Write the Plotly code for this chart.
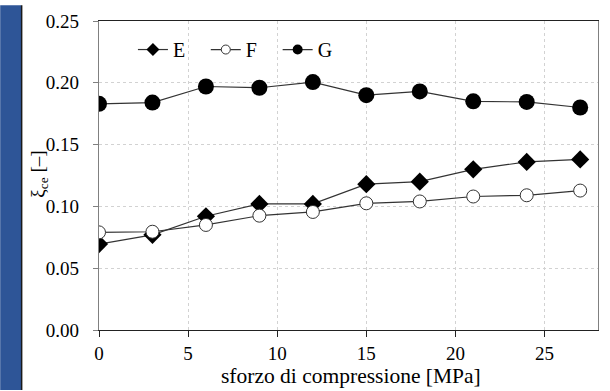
import plotly.graph_objects as go

x_vals = [0, 3, 6, 9, 12, 15, 18, 21, 24, 27]
series_E = [0.0695, 0.077, 0.092, 0.102, 0.102, 0.118, 0.120, 0.130, 0.136, 0.138]
series_F = [0.079, 0.0795, 0.085, 0.0925, 0.0955, 0.1025, 0.104, 0.108, 0.109, 0.1128]
series_G = [0.183, 0.184, 0.197, 0.196, 0.2006, 0.190, 0.193, 0.185, 0.1845, 0.180]
x_ticks = [0, 5, 10, 15, 20, 25]
y_ticks = [0.00, 0.05, 0.10, 0.15, 0.20, 0.25]
y_tick_labels = ["0.00", "0.05", "0.10", "0.15", "0.20", "0.25"]

FONT = "Liberation Serif, Times New Roman, serif"
W, H = 610, 391
L, R, T, B = 99, 11, 16, 61
pw, ph = W - L - R, H - T - B

def px_x(p):
    return (p - L) / pw

def px_y(p):
    return (H - B - p) / ph

fig = go.Figure()
line_style = dict(color="#333333", width=1.2)
styles = {
    "E": dict(symbol="diamond", size=14, color="black"),
    "F": dict(symbol="circle", size=13, color="white", line=dict(color="#333333", width=1)),
    "G": dict(symbol="circle", size=16, color="black"),
}
legend_styles = {
    "E": dict(symbol="diamond", size=10, color="black"),
    "F": dict(symbol="circle", size=9, color="white", line=dict(color="#333333", width=1)),
    "G": dict(symbol="circle", size=10, color="black"),
}
series = {"E": series_E, "F": series_F, "G": series_G}
legend_ids = {"E": "legend", "F": "legend2", "G": "legend3"}

for name, vals in series.items():
    fig.add_trace(go.Scatter(x=x_vals, y=vals, name=name, mode="lines+markers",
                             line=line_style, marker=styles[name], showlegend=False,
                             hoverinfo="skip"))
    # legend entry with smaller symbol, as in the reference
    fig.add_trace(go.Scatter(x=[None], y=[None], name=name, mode="lines+markers",
                             line=line_style, marker=legend_styles[name],
                             showlegend=True, legend=legend_ids[name]))

leg_common = dict(orientation="h", xanchor="left", yanchor="middle",
                  bgcolor="rgba(0,0,0,0)", font=dict(family=FONT, size=20, color="black"),
                  itemsizing="trace", tracegroupgap=0)
fig.update_layout(
    width=W, height=H,
    margin=dict(l=L, r=R, t=T, b=B),
    paper_bgcolor="white", plot_bgcolor="white",
    showlegend=True,
    legend=dict(x=px_x(133), y=px_y(45), **leg_common),
    legend2=dict(x=px_x(206), y=px_y(45), **leg_common),
    legend3=dict(x=px_x(278), y=px_y(45), **leg_common),
    font=dict(family=FONT, size=19, color="black"),
    xaxis=dict(range=[0, 28], tickvals=x_ticks, showgrid=True, gridcolor="#d2d2d2",
               griddash="dot", gridwidth=1, zeroline=False,
               showline=True, linecolor="#222222", linewidth=1.2, mirror=True,
               ticks="outside", ticklen=6, tickcolor="#222222",
               tickfont=dict(family=FONT, size=19, color="black")),
    yaxis=dict(range=[0, 0.25], tickvals=y_ticks, ticktext=y_tick_labels,
               showgrid=True, gridcolor="#d2d2d2", griddash="dot", gridwidth=1,
               zeroline=False, showline=True, linecolor="#808080", linewidth=1.2,
               mirror=True, ticks="outside", ticklen=5, tickcolor="#808080",
               ticklabelstandoff=10,
               tickfont=dict(family=FONT, size=19, color="black")),
)

# x-axis title
fig.add_annotation(text="sforzo di compressione [MPa]", xref="paper", yref="paper",
                   x=px_x(352), y=px_y(377), xanchor="center", yanchor="middle",
                   showarrow=False, font=dict(family=FONT, size=21.5, color="black"))
# y-axis title
fig.add_annotation(text="ξ<sub>ce</sub> [–]", xref="paper", yref="paper",
                   x=px_x(38), y=px_y(172), xanchor="center", yanchor="middle",
                   textangle=-90, showarrow=False,
                   font=dict(family=FONT, size=19, color="black"))

# blue side strip and frame
fig.add_shape(type="rect", xref="paper", yref="paper",
              x0=px_x(0), x1=px_x(21), y0=px_y(H), y1=px_y(0),
              fillcolor="#2e5597", line=dict(width=0), layer="below")
fig.add_shape(type="line", xref="paper", yref="paper",
              x0=px_x(21.5), x1=px_x(21.5), y0=px_y(H), y1=px_y(0),
              line=dict(color="#1a1a1a", width=1.5))

fig.write_html("out.html", config={"displayModeBar": False},
               post_script="document.body.style.margin='0';document.body.style.overflow='hidden';")
